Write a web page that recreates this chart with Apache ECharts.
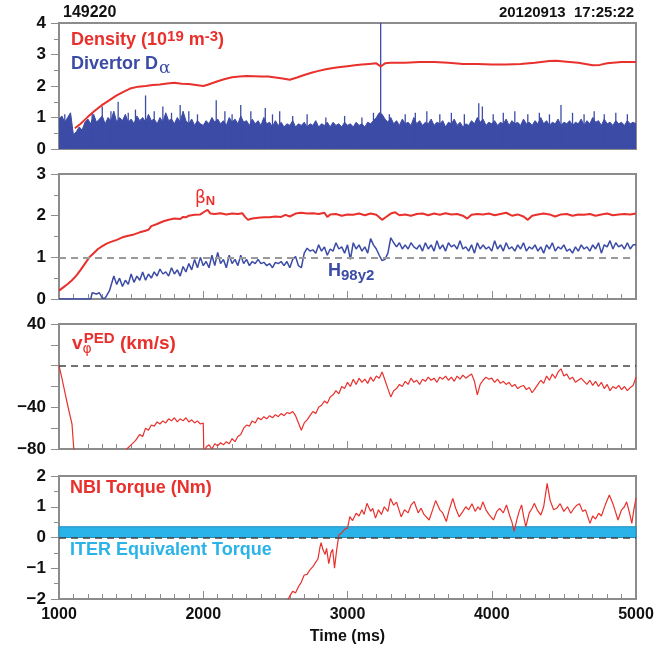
<!DOCTYPE html>
<html><head><meta charset="utf-8">
<script src="https://cdn.jsdelivr.net/npm/echarts@6/dist/echarts.min.js"></script>
<style>html,body{margin:0;padding:0;background:#fff}#c{width:669px;height:646px}</style>
</head><body><div id="c"></div>
<script>
// ---- data (time in ms) ----
const xTicks = [1000, 2000, 3000, 4000, 5000];
const shotLabel = '149220';
const dateLabel = '20120913  17:25:22';

const densityData = [[1110,0.66],[1150,0.8],[1200,1.02],[1250,1.22],[1300,1.4],[1350,1.55],[1400,1.7],[1450,1.82],[1500,1.93],[1550,1.98],[1600,2.0],[1650,2.03],[1700,2.05],[1750,2.08],[1800,2.1],[1850,2.07],[1900,2.06],[1950,2.03],[2000,2.0],[2030,2.04],[2100,2.15],[2150,2.22],[2200,2.28],[2250,2.3],[2300,2.32],[2350,2.31],[2400,2.3],[2450,2.3],[2500,2.27],[2550,2.24],[2600,2.2],[2650,2.27],[2700,2.35],[2750,2.42],[2800,2.48],[2850,2.53],[2900,2.57],[2950,2.6],[3000,2.63],[3050,2.66],[3100,2.68],[3150,2.7],[3200,2.72],[3230,2.62],[3260,2.72],[3300,2.74],[3400,2.74],[3500,2.76],[3600,2.76],[3700,2.74],[3800,2.7],[3900,2.7],[4000,2.68],[4100,2.68],[4200,2.7],[4300,2.74],[4400,2.79],[4450,2.8],[4500,2.78],[4600,2.74],[4700,2.66],[4750,2.67],[4800,2.72],[4900,2.76],[5000,2.76]];

// Divertor D-alpha upper envelope, sampled every 20 ms from 1000 ms
const dalphaStart = 1000, dalphaStep = 20;
const dalphaEnvelope = [0.95,1.05,0.85,1.0,1.15,0.45,0.55,0.7,0.6,0.85,0.95,0.8,1.1,0.85,0.95,1.05,0.8,1.0,0.9,1.2,0.85,1.0,0.9,1.1,0.85,0.95,0.8,1.05,0.9,1.0,0.85,1.1,0.9,0.95,0.8,1.0,0.85,1.15,0.9,0.95,0.8,1.0,0.85,1.2,0.9,0.8,0.95,0.75,0.9,0.8,0.75,0.9,0.8,1.0,0.85,0.95,0.8,0.9,0.75,1.0,0.85,0.95,0.8,1.05,0.85,0.9,0.75,0.95,0.8,0.9,0.75,1.0,0.8,0.85,0.7,0.9,0.75,0.85,0.7,0.8,0.75,0.9,0.7,0.8,0.75,0.85,0.7,0.8,0.75,0.9,0.7,0.8,0.75,0.85,0.7,0.85,0.75,0.8,0.7,0.85,0.75,0.8,0.7,0.85,0.75,0.8,0.7,0.85,0.8,0.9,1.0,1.15,1.1,0.95,0.85,1.0,0.8,0.9,0.75,0.95,0.8,0.85,0.75,1.0,0.8,0.9,0.75,0.85,0.8,0.95,0.75,0.85,0.8,0.9,0.7,0.85,0.8,0.95,0.75,0.85,0.7,0.8,0.75,0.9,0.8,1.0,0.85,0.95,0.75,0.85,0.8,0.9,0.75,0.85,0.8,0.95,0.75,0.9,0.8,0.85,0.75,0.95,0.8,0.85,0.75,0.9,0.8,1.0,0.8,0.9,0.75,0.85,0.8,0.95,0.75,0.85,0.8,0.9,0.75,0.85,0.8,0.95,0.75,0.9,0.8,1.0,0.85,0.9,0.75,0.95,0.8,0.85,0.75,0.9,0.8,0.85,0.75,0.9,0.8,0.85,0.8];
const dalphaSpikes = [[1040,1.1],[1230,1.15],[1300,1.35],[1360,1.2],[1410,1.5],[1480,1.15],[1530,1.25],[1600,1.7],[1660,1.2],[1720,1.35],[1780,1.15],[1840,1.4],[1900,1.2],[1960,1.1],[2090,1.55],[2150,1.2],[2200,1.1],[2260,1.4],[2330,1.2],[2430,1.3],[2480,1.1],[2530,1.2],[2620,1.05],[2720,1.1],[2850,1.0],[2980,1.05],[3100,1.0],[3180,1.15],[3230,4.0],[3290,1.1],[3400,1.1],[3470,1.15],[3550,1.2],[3640,1.1],[3720,1.15],[3810,1.1],[3910,1.45],[3935,1.35],[4010,1.1],[4080,1.15],[4160,1.2],[4250,1.1],[4330,1.15],[4400,1.1],[4480,1.4],[4560,1.15],[4640,1.1],[4710,1.2],[4780,1.1],[4860,1.15],[4940,1.1]];

const betaNData = [[1000,0.2],[1030,0.28],[1060,0.36],[1090,0.45],[1120,0.56],[1150,0.7],[1180,0.85],[1210,1.0],[1240,1.1],[1270,1.2],[1300,1.27],[1330,1.33],[1360,1.37],[1400,1.42],[1440,1.48],[1480,1.52],[1520,1.55],[1560,1.6],[1600,1.64],[1620,1.66],[1640,1.75],[1680,1.8],[1720,1.86],[1760,1.9],[1800,1.93],[1840,1.92],[1860,1.97],[1880,1.96],[1900,2.0],[1940,2.02],[1980,2.03],[2010,2.1],[2030,2.14],[2050,2.05],[2080,2.04],[2120,2.06],[2160,2.03],[2200,2.05],[2240,2.04],[2270,2.06],[2290,1.97],[2310,1.9],[2340,1.93],[2380,1.95],[2420,1.96],[2460,1.96],[2500,1.98],[2540,1.97],[2570,2.02],[2600,1.98],[2640,2.05],[2680,2.07],[2720,2.05],[2760,2.06],[2800,2.04],[2840,2.07],[2860,1.97],[2880,2.03],[2920,2.04],[2960,2.0],[3000,2.03],[3040,2.02],[3080,2.05],[3120,2.01],[3160,2.05],[3200,2.02],[3240,1.9],[3260,1.95],[3300,2.05],[3330,2.08],[3360,2.01],[3400,2.03],[3440,2.0],[3480,2.04],[3520,2.05],[3560,2.01],[3600,2.05],[3640,2.02],[3680,2.06],[3720,2.03],[3760,2.04],[3800,2.0],[3830,1.93],[3860,2.02],[3900,2.04],[3940,2.03],[3980,2.05],[4020,2.01],[4060,2.04],[4100,2.07],[4140,2.0],[4180,2.03],[4220,1.98],[4250,1.9],[4280,2.0],[4320,2.03],[4360,2.05],[4400,2.03],[4440,1.98],[4480,2.03],[4520,2.04],[4560,2.0],[4600,2.03],[4640,2.02],[4680,2.04],[4720,2.0],[4760,2.03],[4800,2.05],[4840,2.01],[4880,2.03],[4920,2.04],[4960,2.03],[5000,2.05]];

const h98Data = [[1000,0],[1220,0],[1230,0.15],[1260,0.12],[1280,0.15],[1300,0.02],[1320,0.02],[1350,0.2],[1380,0.55],[1400,0.35],[1420,0.5],[1440,0.3],[1460,0.45],[1480,0.35],[1500,0.6],[1520,0.4],[1540,0.55],[1560,0.45],[1580,0.65],[1600,0.45],[1620,0.6],[1640,0.5],[1660,0.65],[1680,0.55],[1700,0.72],[1720,0.6],[1740,0.65],[1760,0.55],[1780,0.75],[1800,0.6],[1820,0.7],[1840,0.55],[1860,0.78],[1880,0.65],[1900,0.85],[1920,0.7],[1940,0.95],[1960,0.75],[1980,1.0],[2000,0.8],[2020,0.9],[2040,0.75],[2060,1.05],[2080,0.8],[2100,1.12],[2120,0.85],[2140,0.95],[2160,0.75],[2180,1.05],[2200,0.85],[2220,0.95],[2240,0.8],[2260,1.05],[2280,0.85],[2300,0.95],[2320,0.8],[2340,0.9],[2360,0.85],[2380,0.95],[2400,0.85],[2420,0.88],[2440,0.8],[2460,0.85],[2480,0.75],[2500,0.88],[2520,0.85],[2540,0.9],[2560,0.8],[2580,0.9],[2600,0.75],[2620,0.95],[2640,1.02],[2660,0.8],[2680,0.75],[2700,1.1],[2720,1.22],[2740,1.15],[2760,1.18],[2780,1.1],[2800,1.3],[2820,1.15],[2840,1.25],[2860,1.05],[2880,1.2],[2900,1.15],[2920,1.35],[2940,1.2],[2960,1.25],[2980,1.1],[3000,1.3],[3020,0.95],[3040,1.35],[3060,1.2],[3080,1.3],[3100,1.15],[3120,1.25],[3140,1.1],[3160,1.45],[3180,1.3],[3200,1.2],[3220,1.05],[3240,0.92],[3260,0.95],[3280,1.1],[3300,1.47],[3320,1.35],[3340,1.25],[3360,1.35],[3380,1.2],[3400,1.3],[3420,1.2],[3440,1.35],[3460,1.25],[3480,1.2],[3500,1.3],[3520,1.15],[3540,1.35],[3560,1.2],[3580,1.3],[3600,1.15],[3620,1.4],[3640,1.2],[3660,1.3],[3680,1.15],[3700,1.35],[3720,1.25],[3740,1.3],[3760,1.2],[3780,1.4],[3800,1.2],[3820,1.25],[3840,1.15],[3860,1.3],[3880,1.1],[3900,1.35],[3920,1.2],[3940,1.3],[3960,1.2],[3980,1.25],[4000,1.15],[4020,1.4],[4040,1.2],[4060,1.3],[4080,1.15],[4100,1.35],[4120,1.2],[4140,1.25],[4160,1.15],[4180,1.3],[4200,1.2],[4220,1.35],[4240,1.15],[4260,1.25],[4280,1.2],[4300,1.3],[4320,1.15],[4340,1.25],[4360,1.1],[4380,1.3],[4400,1.2],[4420,1.35],[4440,1.15],[4460,1.25],[4480,1.2],[4500,1.3],[4520,1.15],[4540,1.2],[4560,1.1],[4580,1.25],[4600,1.15],[4620,1.3],[4640,1.2],[4660,1.25],[4680,1.15],[4700,1.3],[4720,1.2],[4740,1.35],[4760,1.1],[4780,1.3],[4800,1.25],[4820,1.4],[4840,1.2],[4860,1.35],[4880,1.25],[4900,1.3],[4920,1.2],[4940,1.35],[4960,1.2],[4980,1.3],[5000,1.3]];

const vphiData = [[1000,0],[1020,-12],[1040,-25],[1060,-38],[1080,-50],[1090,-56],[1100,-75],[1110,-95],[1111,null],[1460,-90],[1470,-80],[1500,-76],[1530,-72],[1560,-66],[1580,-68],[1600,-60],[1620,-62],[1640,-57],[1660,-58],[1680,-54],[1700,-56],[1720,-53],[1740,-55],[1760,-51],[1780,-53],[1800,-50],[1820,-54],[1840,-51],[1860,-53],[1880,-50],[1900,-54],[1920,-52],[1940,-55],[1960,-53],[1980,-56],[2000,-55],[2005,-88],[2020,-78],[2040,-76],[2060,-80],[2080,-75],[2100,-77],[2120,-74],[2140,-76],[2160,-73],[2180,-75],[2200,-70],[2220,-73],[2240,-68],[2260,-66],[2280,-60],[2300,-57],[2320,-58],[2340,-53],[2360,-55],[2380,-50],[2400,-52],[2420,-49],[2440,-51],[2460,-48],[2480,-50],[2500,-47],[2520,-49],[2540,-46],[2560,-48],[2580,-45],[2600,-46],[2620,-44],[2640,-48],[2660,-55],[2680,-62],[2700,-55],[2720,-52],[2740,-48],[2760,-44],[2780,-46],[2800,-40],[2820,-38],[2840,-34],[2860,-36],[2880,-30],[2900,-28],[2920,-24],[2940,-27],[2960,-20],[2980,-22],[3000,-16],[3020,-20],[3040,-13],[3060,-18],[3080,-12],[3100,-16],[3120,-13],[3140,-17],[3160,-11],[3180,-15],[3200,-10],[3220,-12],[3240,-6],[3260,-14],[3280,-22],[3300,-30],[3320,-24],[3340,-22],[3360,-18],[3380,-20],[3400,-15],[3420,-18],[3440,-12],[3460,-16],[3480,-14],[3500,-18],[3520,-13],[3540,-15],[3560,-11],[3580,-14],[3600,-12],[3620,-16],[3640,-11],[3660,-13],[3680,-10],[3700,-14],[3720,-11],[3740,-15],[3760,-10],[3780,-13],[3800,-9],[3820,-12],[3840,-10],[3860,-8],[3880,-15],[3900,-28],[3920,-18],[3940,-14],[3960,-11],[3980,-13],[4000,-12],[4020,-16],[4040,-13],[4060,-17],[4080,-15],[4100,-18],[4120,-16],[4140,-20],[4160,-18],[4180,-22],[4200,-20],[4220,-19],[4240,-23],[4260,-21],[4280,-26],[4300,-22],[4320,-18],[4340,-14],[4360,-17],[4380,-10],[4400,-14],[4420,-8],[4440,-12],[4460,-6],[4480,-3],[4500,-10],[4520,-8],[4540,-13],[4560,-11],[4580,-16],[4600,-14],[4620,-12],[4640,-15],[4660,-18],[4680,-14],[4700,-19],[4720,-15],[4740,-20],[4760,-16],[4780,-22],[4800,-18],[4820,-24],[4840,-20],[4860,-22],[4880,-19],[4900,-23],[4920,-20],[4940,-24],[4960,-21],[4980,-19],[5000,-11]];

const torqueData = [[2580,-2.1],[2600,-1.9],[2620,-1.75],[2640,-1.8],[2660,-1.6],[2680,-1.45],[2700,-1.22],[2720,-1.2],[2740,-1.05],[2760,-0.95],[2780,-0.8],[2795,-0.7],[2810,-0.3],[2817,-0.17],[2830,-0.4],[2845,-0.55],[2855,-0.35],[2870,-0.85],[2885,-0.5],[2897,-0.38],[2910,-1.0],[2925,-0.4],[2940,0.08],[2960,0.15],[2986,0.3],[3000,0.3],[3016,0.68],[3035,0.55],[3060,0.79],[3080,0.7],[3100,0.9],[3115,0.75],[3135,1.11],[3160,0.85],[3175,0.95],[3194,0.63],[3215,0.9],[3235,0.75],[3255,1.0],[3280,0.85],[3298,1.27],[3320,1.05],[3340,1.15],[3372,0.67],[3395,0.9],[3420,0.8],[3440,1.05],[3462,1.17],[3490,0.8],[3510,0.95],[3530,0.75],[3566,0.57],[3590,0.9],[3611,1.2],[3640,0.9],[3660,0.8],[3685,0.52],[3705,0.9],[3730,1.27],[3750,0.95],[3774,0.67],[3800,0.85],[3820,1.0],[3840,0.9],[3863,1.1],[3885,0.85],[3905,1.0],[3920,0.9],[3938,1.16],[3960,0.9],[3980,0.75],[4012,0.57],[4035,0.85],[4055,0.95],[4080,0.8],[4102,1.06],[4125,0.7],[4140,0.5],[4155,0.2],[4175,0.6],[4190,0.85],[4207,1.06],[4220,0.7],[4236,0.35],[4260,0.8],[4280,0.95],[4295,1.11],[4315,0.9],[4340,0.73],[4360,1.0],[4384,1.76],[4405,1.2],[4429,0.9],[4450,0.95],[4474,1.1],[4500,0.85],[4525,1.0],[4548,0.79],[4570,0.95],[4590,1.05],[4608,1.1],[4630,0.85],[4650,0.9],[4681,0.46],[4700,0.7],[4720,0.6],[4741,0.79],[4760,0.7],[4790,1.1],[4815,1.38],[4840,1.1],[4860,0.8],[4875,0.57],[4900,0.9],[4920,1.0],[4935,1.16],[4955,0.8],[4971,0.46],[4985,0.9],[5000,1.27]];
const iterBand = [0, 0.35];
const refLines = [null, 1, 0, 0];

// ---- styles ----
const RED = '#e8302c', BLUE = '#3b4ba6', CYAN = '#29b3e8', FRAME = '#8c8c8c';
const FONT = '"Liberation Sans", Arial, Helvetica, sans-serif';

const dalphaData = dalphaEnvelope.map((v, i) => [dalphaStart + i * dalphaStep, v]);

const grids = [
  {left: 59, right: 33, top: 23, height: 126},
  {left: 59, right: 33, top: 174, height: 125},
  {left: 59, right: 33, top: 324, height: 125},
  {left: 59, right: 33, top: 476, height: 123}
];
const yRanges = [
  {min: 0, max: 4, interval: 1, minor: 2},
  {min: 0, max: 3, interval: 1, minor: 2},
  {min: -80, max: 40, interval: 20, minor: 1, only: [40, -40, -80]},
  {min: -2, max: 2, interval: 1, minor: 2}
];

const xAxes = grids.map((g, i) => ({
  type: 'value', gridIndex: i, min: xTicks[0], max: xTicks[xTicks.length - 1], interval: 1000,
  axisLine: {show: true, onZero: false, lineStyle: {color: FRAME, width: 2}},
  axisTick: {show: true, inside: true, length: 8, lineStyle: {color: FRAME, width: 1}},
  minorTick: {show: true, splitNumber: 10, length: 5, lineStyle: {color: FRAME, width: 1}},
  splitLine: {show: false},
  axisLabel: {show: i === 3, color: '#111', fontFamily: FONT, fontWeight: 'bold', fontSize: 16, margin: 8,
    formatter: v => String(v)},
  name: i === 3 ? 'Time (ms)' : '', nameLocation: 'middle', nameGap: 30,
  nameTextStyle: {color: '#111', fontFamily: FONT, fontWeight: 'bold', fontSize: 16}
}));
const yAxes = yRanges.map((r, i) => ({
  type: 'value', gridIndex: i, min: r.min, max: r.max, interval: r.interval,
  axisLine: {show: true, onZero: false, lineStyle: {color: FRAME, width: 2}},
  axisTick: {show: true, inside: false, length: 8, lineStyle: {color: FRAME, width: 1}},
  minorTick: {show: r.minor > 1, splitNumber: r.minor, length: 5, lineStyle: {color: FRAME, width: 1}},
  splitLine: {show: false},
  axisLabel: {color: '#111', fontFamily: FONT, fontWeight: 'bold', fontSize: 17, margin: 13,
    formatter: v => (r.only && r.only.indexOf(v) < 0) ? '' : (v < 0 ? '\u2212' + Math.abs(v) : String(v))}
}));

function dashed(i, color, width) {
  return {silent: true, symbol: 'none', label: {show: false},
    lineStyle: {color: color, width: width, type: [7, 5]}, data: [{yAxis: refLines[i]}]};
}

const series = [
  {type: 'line', name: 'Dalpha', xAxisIndex: 0, yAxisIndex: 0, data: dalphaData, showSymbol: false,
   lineStyle: {color: BLUE, width: 1}, areaStyle: {color: BLUE, opacity: 1}, z: 2, animation: false},
  {type: 'bar', name: 'DalphaSpikes', xAxisIndex: 0, yAxisIndex: 0, data: dalphaSpikes, barWidth: 1.3,
   itemStyle: {color: BLUE}, z: 2, animation: false},
  {type: 'line', name: 'Density', xAxisIndex: 0, yAxisIndex: 0, data: densityData, showSymbol: false,
   lineStyle: {color: RED, width: 2}, z: 3, animation: false},
  {type: 'line', name: 'BetaN', xAxisIndex: 1, yAxisIndex: 1, data: betaNData, showSymbol: false,
   lineStyle: {color: RED, width: 2}, z: 3, animation: false, markLine: dashed(1, '#9a9a9a', 2)},
  {type: 'line', name: 'H98', xAxisIndex: 1, yAxisIndex: 1, data: h98Data, showSymbol: false,
   lineStyle: {color: BLUE, width: 1.5}, z: 3, animation: false},
  {type: 'line', name: 'Vphi', xAxisIndex: 2, yAxisIndex: 2, data: vphiData, showSymbol: false, connectNulls: false,
   lineStyle: {color: RED, width: 1.2}, z: 3, animation: false, markLine: dashed(2, '#444', 1.5)},
  {type: 'line', name: 'ITER', xAxisIndex: 3, yAxisIndex: 3, data: [], z: 1, animation: false,
   markArea: {silent: true, itemStyle: {color: CYAN, borderColor: '#1f8fc0', borderWidth: 1},
     data: [[{xAxis: xTicks[0], yAxis: iterBand[0]}, {xAxis: xTicks[xTicks.length - 1], yAxis: iterBand[1]}]]}},
  {type: 'line', name: 'Torque', xAxisIndex: 3, yAxisIndex: 3, data: torqueData, showSymbol: false,
   lineStyle: {color: RED, width: 1.2}, z: 4, animation: false, markLine: dashed(3, '#444', 1.5)}
];

const graphic = [
  {type: 'text', left: 63, top: 5, z: 100, style: {text: shotLabel, fontFamily: FONT, fontWeight: 'bold', fontSize: 16, fill: '#111'}},
  {type: 'text', right: 35, top: 5, z: 100, style: {text: dateLabel, fontFamily: FONT, fontWeight: 'bold', fontSize: 15, fill: '#111'}},
  {type: 'text', left: 71, top: 29, z: 100, style: {
    text: '{a|Density (10}{s|19}{a| m}{s|-3}{a|)}',
    rich: {a: {fontFamily: FONT, fontWeight: 'bold', fontSize: 18, fill: RED, lineHeight: 22},
           s: {fontFamily: FONT, fontWeight: 'bold', fontSize: 15, fill: RED, lineHeight: 22, padding: [0, 0, 8, 0]}}}},
  {type: 'text', left: 71, top: 52, z: 100, style: {
    text: '{a|Divertor D}{s|\u03b1}',
    rich: {a: {fontFamily: FONT, fontWeight: 'bold', fontSize: 18, fill: BLUE, lineHeight: 22},
           s: {fontFamily: '"DejaVu Serif", "Liberation Serif", serif', fontSize: 17, fill: BLUE, lineHeight: 22, padding: [8, 0, 0, 1]}}}},
  {type: 'text', left: 195, top: 189, z: 100, style: {
    text: '{a|\u03b2}{s|N}',
    rich: {a: {fontFamily: '"DejaVu Sans", sans-serif', fontSize: 17, fill: RED, lineHeight: 20},
           s: {fontFamily: FONT, fontWeight: 'bold', fontSize: 13, fill: RED, lineHeight: 20, padding: [6, 0, 0, 0]}}}},
  {type: 'text', left: 328, top: 260, z: 100, style: {
    text: '{a|H}{s|98y2}',
    rich: {a: {fontFamily: FONT, fontWeight: 'bold', fontSize: 18, fill: BLUE, lineHeight: 22},
           s: {fontFamily: FONT, fontWeight: 'bold', fontSize: 15, fill: BLUE, lineHeight: 22, padding: [8, 0, 0, 0]}}}},
  {type: 'text', left: 72, top: 331, z: 100, style: {
    text: '{a|v}{s|\u03c6}{p|PED}{a| (km/s)}',
    rich: {a: {fontFamily: FONT, fontWeight: 'bold', fontSize: 19, fill: RED, lineHeight: 24},
           s: {fontFamily: '"DejaVu Sans", sans-serif', fontSize: 14, fill: RED, lineHeight: 24, padding: [11, 0, 0, 0]},
           p: {fontFamily: FONT, fontWeight: 'bold', fontSize: 15, fill: RED, lineHeight: 24, padding: [0, 0, 10, -8]}}}},
  {type: 'text', left: 70, top: 479, z: 100, style: {text: 'NBI Torque (Nm)', fontFamily: FONT, fontWeight: 'bold', fontSize: 18, fill: RED}},
  {type: 'text', left: 70, top: 541, z: 100, style: {text: 'ITER Equivalent Torque', fontFamily: FONT, fontWeight: 'bold', fontSize: 18, fill: CYAN}}
];

const chart = echarts.init(document.getElementById('c'), null, {renderer: 'canvas'});
chart.setOption({
  animation: false,
  grid: grids.map(g => Object.assign({show: true, borderColor: FRAME, borderWidth: 2, backgroundColor: '#fff'}, g)),
  xAxis: xAxes, yAxis: yAxes, series: series, graphic: graphic
});
</script></body></html>
